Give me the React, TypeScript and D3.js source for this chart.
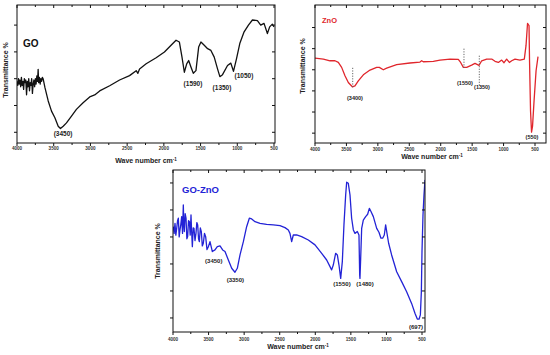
import React from 'react';
import * as d3 from 'd3';

const xTicks = [4000, 3500, 3000, 2500, 2000, 1500, 1000, 500];
const xMinor = [3750, 3250, 2750, 2250, 1750, 1250, 750];

// GO spectrum (wavenumber, transmittance)
const goWn = [4000, 3990, 3980, 3970, 3960, 3950, 3940, 3930, 3920, 3910, 3900, 3890, 3880, 3870, 3860, 3850, 3840, 3830, 3820, 3810,
  3800, 3790, 3780, 3770, 3760, 3750, 3740, 3730, 3720, 3712, 3705, 3695, 3685, 3675, 3665, 3655, 3643,
  3620, 3575, 3530, 3484, 3439, 3408, 3371, 3326, 3258, 3191, 3100, 3010, 2942, 2874, 2738, 2603, 2467, 2377, 2354, 2331,
  2241, 2105, 1992, 1902, 1834, 1789, 1753, 1721, 1689, 1662, 1630, 1599, 1563, 1526, 1495, 1450, 1404, 1359, 1314, 1269,
  1237, 1201, 1133, 1088, 1052, 1011, 966, 907, 848, 794, 726, 681, 636, 590, 559, 523, 500];
const goT = [48, 45, 50, 46, 49, 44, 51, 45, 48, 42, 50, 47, 49, 38, 48, 44, 50, 41, 47, 45,
  50, 39, 46, 49, 44, 50, 46, 52, 48, 57, 47, 51, 46, 50, 48, 51, 49.7,
  43.5, 33.4, 25.8, 20.8, 14.5, 12.8, 14.5, 17, 22.1, 27.1, 32.1, 36.4, 37.9, 40.9, 44.7, 49, 52.3, 56, 54, 57.3,
  61.1, 65.6, 69.9, 74.9, 78.7, 77.4, 66.1, 54.8, 61.1, 63.6, 58.6, 54, 56, 73.6, 77.4, 74.9, 72.4, 71.1, 66.1, 57.3,
  51.5, 53, 59.8, 61.6, 55.5, 64.8, 76.2, 85, 90, 93.8, 93.3, 90, 91.3, 83.7, 88.7, 90.7, 88.7];
const goPeaks = ['(3450)', '(1590)', '(1350)', '(1050)'];
const goPeakWn = [3373, 1603, 1208, 909];
const goPeakT = [7, 44.7, 41.3, 50.4];
const goYTicks = [10, 30, 50, 70, 90];

// ZnO spectrum
const znoWn = [4000, 3867, 3761, 3682, 3629, 3576, 3523, 3470, 3406, 3364, 3311, 3231, 3125, 3019, 2977, 2913, 2860, 2701, 2489, 2330,
  2303, 2277, 2117, 2011, 1852, 1720, 1683, 1640, 1587, 1508, 1455, 1391, 1348, 1269, 1189, 1136, 1083, 1030, 993, 951,
  908, 871, 818, 739, 670, 643, 619, 595, 587, 571, 555, 539, 515, 483, 452];
const znoT = [63.3, 62.6, 61.4, 61.4, 60.2, 56.7, 50.7, 46, 42.9, 43.6, 47.1, 51.4, 54.8, 56.7, 56.7, 55, 56.2, 58.6, 59.8, 60.5,
  61.4, 60.7, 61, 61.9, 62.6, 62.4, 60.2, 56.7, 56.7, 58.3, 59.5, 58.1, 61.4, 62.6, 62.6, 61, 60.2, 61.9, 60, 62.6,
  60.2, 61.4, 62.6, 61.9, 62.6, 72.1, 87.9, 86.4, 61.4, 25.7, 10.7, 15, 32.9, 54.3, 64.3];
const znoPeaks = ['(3400)', '(1550)', '(1350)', '(550)'];
const znoPeakWn = [3364, 1614, 1343, 548];
const znoPeakT = [33.2, 44.3, 41.1, 6.1];
const znoGuideWn = [3400, 1630, 1386];
const znoGuideT0 = [56.4, 70, 65];
const znoGuideT1 = [42.1, 55.7, 43.6];
const znoYTicks = [10, 25, 40, 55, 70, 85];

// GO-ZnO spectrum
const goZnoWn = [3995, 3984, 3972, 3960, 3948, 3936, 3925, 3913, 3902, 3890, 3878, 3866, 3855, 3848, 3841, 3829, 3817, 3805, 3794, 3782,
  3770, 3758, 3747, 3738, 3728, 3716, 3705, 3691, 3677, 3665, 3653, 3641, 3630, 3616, 3602, 3588, 3574, 3557, 3541, 3522,
  3503, 3480, 3447, 3410, 3377, 3339, 3302, 3269, 3222, 3175, 3129, 3096, 3058, 3011, 2965, 2927, 2894, 2847, 2777, 2684,
  2590, 2496, 2426, 2379, 2356, 2332, 2309, 2262, 2192, 2098, 2004, 1910, 1840, 1793, 1770, 1747, 1714, 1690, 1667, 1643,
  1620, 1597, 1573, 1559, 1536, 1512, 1489, 1465, 1442, 1409, 1386, 1376, 1372, 1362, 1348, 1325, 1292, 1264, 1240, 1217,
  1184, 1137, 1105, 1077, 1053, 1030, 1011, 992, 969, 927, 856, 786, 716, 646, 599, 566, 542, 523, 509, 500,
  486, 472, 458];
const goZnoT = [60.7, 57, 62.6, 56, 59.8, 64, 65.4, 55, 58.9, 62, 66.3, 57, 72.8, 62, 58, 68, 65.4, 54, 55.2, 64,
  63.5, 56, 67.2, 58, 49.6, 60, 59.8, 53, 57, 63, 61.7, 54, 52.4, 60, 58, 50, 51.5, 57, 55.2, 48,
  49.6, 52.4, 46.9, 47.8, 49.6, 50, 47.8, 46.9, 42.2, 37.6, 35.4, 37.6, 45, 52.4, 60.7, 65.4, 65, 63.5, 62.6, 62,
  61.7, 61.3, 60.2, 58.9, 57, 52.4, 56.1, 56.1, 55.2, 53.3, 50.6, 45.9, 42.2, 38.5, 36.7, 39.4, 45.9, 45, 39.4, 32,
  41.3, 61.7, 78.3, 85.4, 84.8, 78.3, 65.4, 58.9, 57, 58, 56.1, 33.9, 32, 43.1, 59.8, 64.4, 66.3, 67.6, 70.9, 69.1,
  66.3, 59.8, 57.6, 54.3, 54.3, 56.1, 61.7, 57, 51.5, 45, 35.7, 30.2, 24.6, 18.1, 12.6, 9.4, 9.3, 11.7, 24.6, 46.9,
  67.2, 78.3, 86.7];
const goZnoPeaks = ['(3450)', '(3350)', '(1550)', '(1480)', '(697)'];
const goZnoPeakWn = [3427, 3124, 1625, 1301, 584];
const goZnoPeakT = [40.7, 30.2, 27.9, 27.9, 3.9];
const goZnoYTicks = [10, 25, 40, 55, 70, 85];

const FONT = '"Liberation Sans", Arial, sans-serif';

type Box = { left: number; top: number; right: number; bottom: number; x500: number };

type PanelProps = {
  id: string;
  wn: number[];
  t: number[];
  color: string;
  title: string;
  titleSize: number;
  titleDx: number;
  titleDy: number;
  box: Box;
  yDomain: [number, number];
  yTicks: number[];
  peaks: string[];
  peakWn: number[];
  peakT: number[];
  peakSize: number;
  guideWn?: number[];
  guideT0?: number[];
  guideT1?: number[];
  yLabelX: number;
  yLabelY: number;
  xLabelX: number;
  xLabelY: number;
  tickLabelY: number;
};

function Panel(p: PanelProps) {
  const { box } = p;
  const x = d3.scaleLinear().domain([4000, 500]).range([box.left, box.x500]);
  const y = d3.scaleLinear().domain(p.yDomain).range([box.bottom, box.top]);
  const line = d3
    .line<number>()
    .x((_, i) => x(p.wn[i]))
    .y((d) => y(d));

  return (
    <g>
      <defs>
        <clipPath id={`clip-${p.id}`}>
          <rect x={box.left} y={box.top} width={box.right - box.left} height={box.bottom - box.top} />
        </clipPath>
      </defs>
      <path d={line(p.t) || ''} fill="none" stroke={p.color} strokeWidth={1.3} strokeLinejoin="round" clipPath={`url(#clip-${p.id})`} />
      <rect x={box.left} y={box.top} width={box.right - box.left} height={box.bottom - box.top} fill="none" stroke="#111" strokeWidth={1} />

      {xTicks.map((v) => (
        <g key={`xt${v}`}>
          <line x1={x(v)} x2={x(v)} y1={box.bottom} y2={box.bottom + 3} stroke="#111" />
          <line x1={x(v)} x2={x(v)} y1={box.top} y2={box.top + 3} stroke="#111" />
          <text x={x(v)} y={p.tickLabelY} textAnchor="middle" fontSize={4.6} fontWeight={700} fill="#333" fontFamily={FONT}>
            {v}
          </text>
        </g>
      ))}
      {xMinor.map((v) => (
        <g key={`xm${v}`}>
          <line x1={x(v)} x2={x(v)} y1={box.bottom} y2={box.bottom + 2} stroke="#111" />
          <line x1={x(v)} x2={x(v)} y1={box.top} y2={box.top + 2} stroke="#111" />
        </g>
      ))}
      {p.yTicks.map((v) => (
        <g key={`yt${v}`}>
          <line x1={box.left - 3} x2={box.left} y1={y(v)} y2={y(v)} stroke="#111" />
          <line x1={box.right - 3} x2={box.right} y1={y(v)} y2={y(v)} stroke="#111" />
        </g>
      ))}

      {p.guideWn &&
        p.guideWn.map((v, i) => (
          <line
            key={`g${i}`}
            x1={x(v)}
            x2={x(v)}
            y1={y(p.guideT0![i])}
            y2={y(p.guideT1![i])}
            stroke="#666"
            strokeWidth={1}
            strokeDasharray="1.2,1.4"
          />
        ))}

      {p.peaks.map((s, i) => (
        <text
          key={`pk${i}`}
          x={x(p.peakWn[i])}
          y={y(p.peakT[i])}
          textAnchor="middle"
          fontSize={p.peakSize}
          fontWeight={700}
          fill="#222"
          fontFamily={FONT}
        >
          {s}
        </text>
      ))}

      <text x={box.left + p.titleDx} y={box.top + p.titleDy} fontSize={p.titleSize} fontWeight={700} fill={p.color} fontFamily={FONT}>
        {p.title}
      </text>

      <text
        transform={`translate(${p.yLabelX},${p.yLabelY}) rotate(-90)`}
        textAnchor="middle"
        fontSize={7}
        fontWeight={600}
        fill="#222"
        fontFamily={FONT}
      >
        Transmittance %
      </text>
      <text x={p.xLabelX} y={p.xLabelY} textAnchor="middle" fontSize={7} fontWeight={600} fill="#222" fontFamily={FONT}>
        Wave number cm
        <tspan fontSize={4.5} dy={-2.5}>
          -1
        </tspan>
      </text>
    </g>
  );
}

export default function App() {
  return (
    <svg width={550} height={355} style={{ position: 'absolute', left: 0, top: 0, background: '#fff' }}>
      <rect width={550} height={355} fill="#fff" />
      <Panel
        id="go"
        wn={goWn}
        t={goT}
        color="#111"
        title="GO"
        titleSize={10}
        titleDx={6}
        titleDy={42}
        box={{ left: 17, top: 5, right: 275, bottom: 143, x500: 274 }}
        yDomain={[2, 105]}
        yTicks={goYTicks}
        peaks={goPeaks}
        peakWn={goPeakWn}
        peakT={goPeakT}
        peakSize={6.5}
        yLabelX={8}
        yLabelY={70}
        xLabelX={146}
        xLabelY={163}
        tickLabelY={150}
      />
      <Panel
        id="zno"
        wn={znoWn}
        t={znoT}
        color="#e0262c"
        title="ZnO"
        titleSize={7.5}
        titleDx={7}
        titleDy={18}
        box={{ left: 315, top: 5, right: 546, bottom: 143, x500: 535 }}
        yDomain={[3, 101]}
        yTicks={znoYTicks}
        peaks={znoPeaks}
        peakWn={znoPeakWn}
        peakT={znoPeakT}
        peakSize={5.5}
        guideWn={znoGuideWn}
        guideT0={znoGuideT0}
        guideT1={znoGuideT1}
        yLabelX={305}
        yLabelY={66}
        xLabelX={432}
        xLabelY={159}
        tickLabelY={151}
      />
      <Panel
        id="gozno"
        wn={goZnoWn}
        t={goZnoT}
        color="#2323d6"
        title="GO-ZnO"
        titleSize={9.5}
        titleDx={9}
        titleDy={23}
        box={{ left: 173, top: 170, right: 425, bottom: 332, x500: 422 }}
        yDomain={[2.2, 92.2]}
        yTicks={goZnoYTicks}
        peaks={goZnoPeaks}
        peakWn={goZnoPeakWn}
        peakT={goZnoPeakT}
        peakSize={6}
        yLabelX={160}
        yLabelY={251}
        xLabelX={298}
        xLabelY={349}
        tickLabelY={341}
      />
    </svg>
  );
}
